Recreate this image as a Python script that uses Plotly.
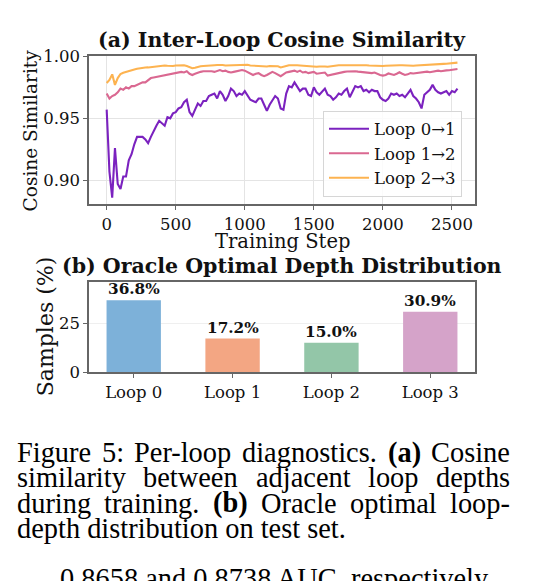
import plotly.graph_objects as go

W, H = 537, 581

# ---------------- data ----------------
steps = list(range(0, 2541, 20))

loop01 = [
    0.957, 0.907, 0.886, 0.926, 0.897, 0.893, 0.903, 0.903,
    0.916, 0.921, 0.929, 0.935, 0.935, 0.935, 0.933, 0.930,
    0.935, 0.940, 0.944, 0.948, 0.946, 0.944, 0.951, 0.950,
    0.954, 0.955, 0.958, 0.959, 0.963, 0.965, 0.955, 0.952,
    0.957, 0.962, 0.960, 0.964, 0.964, 0.968, 0.969, 0.970,
    0.966, 0.972, 0.969, 0.964, 0.968, 0.974, 0.972, 0.968,
    0.970, 0.969, 0.972, 0.969, 0.965, 0.964, 0.963, 0.966,
    0.966, 0.961, 0.956, 0.961, 0.965, 0.968, 0.966, 0.958,
    0.957, 0.970, 0.976, 0.975, 0.979, 0.975, 0.972, 0.974,
    0.974, 0.969, 0.968, 0.975, 0.971, 0.969, 0.972, 0.974,
    0.969, 0.968, 0.965, 0.967, 0.970, 0.969, 0.972, 0.974,
    0.967, 0.972, 0.976, 0.975, 0.976, 0.972, 0.973, 0.971,
    0.973, 0.972, 0.972, 0.967, 0.965, 0.964, 0.966, 0.970,
    0.969, 0.970, 0.968, 0.969, 0.967, 0.970, 0.973, 0.968,
    0.966, 0.963, 0.958, 0.969, 0.971, 0.973, 0.977, 0.973,
    0.971, 0.970, 0.971, 0.972, 0.969, 0.972, 0.971, 0.974,
]

loop12 = [
    0.970, 0.966, 0.968, 0.969, 0.971, 0.974, 0.973, 0.975,
    0.974, 0.976, 0.976, 0.977, 0.978, 0.979, 0.979, 0.981,
    0.9825, 0.983, 0.9835, 0.984, 0.9845, 0.985, 0.9855, 0.986,
    0.986, 0.9865, 0.987, 0.9875, 0.987, 0.988, 0.986, 0.985,
    0.986, 0.987, 0.9875, 0.988, 0.988, 0.9885, 0.988, 0.9875,
    0.9885, 0.989, 0.988, 0.9885, 0.9875, 0.987, 0.9875, 0.988,
    0.9885, 0.989, 0.9885, 0.9875, 0.9865, 0.985, 0.986, 0.9865,
    0.985, 0.984, 0.985, 0.986, 0.9875, 0.9865, 0.985, 0.984,
    0.9855, 0.987, 0.9875, 0.988, 0.9885, 0.9875, 0.9885, 0.987,
    0.9875, 0.9865, 0.987, 0.9875, 0.986, 0.9865, 0.9865, 0.987,
    0.9845, 0.985, 0.9855, 0.9865, 0.987, 0.9875, 0.9875, 0.9878,
    0.988, 0.9882, 0.988, 0.9877, 0.9875, 0.9872, 0.987, 0.9868,
    0.9865, 0.987, 0.9858, 0.985, 0.9845, 0.985, 0.9862, 0.9858,
    0.985, 0.986, 0.9872, 0.986, 0.985, 0.9855, 0.9865, 0.9862,
    0.9865, 0.987, 0.9872, 0.9875, 0.9877, 0.9872, 0.9875, 0.988,
    0.9885, 0.988, 0.9885, 0.9887, 0.9888, 0.989, 0.9892, 0.9898,
]

loop23 = [
    0.9785, 0.981, 0.9855, 0.977, 0.9825, 0.9858, 0.9868, 0.9876,
    0.9885, 0.989, 0.9895, 0.990, 0.9905, 0.9908, 0.991, 0.9911,
    0.9914, 0.9916, 0.9919, 0.9922, 0.9925, 0.9927, 0.9925, 0.9922,
    0.9923, 0.9926, 0.9927, 0.9928, 0.9929, 0.9922, 0.9916, 0.9905,
    0.9908, 0.9915, 0.992, 0.9922, 0.9925, 0.9927, 0.9928, 0.9929,
    0.993, 0.9932, 0.993, 0.9927, 0.9928, 0.9929, 0.9928, 0.9929,
    0.9929, 0.9932, 0.9935, 0.9932, 0.9927, 0.9925, 0.9922, 0.9922,
    0.992, 0.9916, 0.9918, 0.9922, 0.9922, 0.9922, 0.992, 0.9911,
    0.9914, 0.9922, 0.9928, 0.9929, 0.9929, 0.9928, 0.9926, 0.9924,
    0.9925, 0.9924, 0.9922, 0.9918, 0.9916, 0.9919, 0.9921, 0.9918,
    0.9916, 0.992, 0.9924, 0.9926, 0.9929, 0.9929, 0.9929, 0.993,
    0.9932, 0.9934, 0.9934, 0.9934, 0.9932, 0.993, 0.9929, 0.9926,
    0.9924, 0.9924, 0.9922, 0.992, 0.9922, 0.9924, 0.9926, 0.9928,
    0.9929, 0.9929, 0.9929, 0.9929, 0.9927, 0.9926, 0.9925, 0.9924,
    0.9926, 0.9928, 0.9929, 0.993, 0.9932, 0.9934, 0.9935, 0.9936,
    0.9938, 0.994, 0.994, 0.9941, 0.9942, 0.9944, 0.9946, 0.995,
]

series_names = ["Loop 0→1", "Loop 1→2", "Loop 2→3"]
series_colors = ["#7B22BF", "#DA6891", "#FDB350"]

bar_cats = ["Loop 0", "Loop 1", "Loop 2", "Loop 3"]
bar_vals = [36.8, 17.2, 15.0, 30.9]
bar_colors = ["#7DB1D9", "#F3A683", "#93C6A8", "#D5A3C9"]

cos_ticks = [0.90, 0.95, 1.00]
step_ticks = [0, 500, 1000, 1500, 2000, 2500]

caption_lines = [
    ["Figure", "5:", "Per-loop", "diagnostics.", "<b>(a)</b>", "Cosine"],
    ["similarity", "between", "adjacent", "loop", "depths"],
    ["during", "training.", "<b>(b)</b>", "Oracle", "optimal", "loop-"],
]
caption_last = "depth distribution on test set."
caption_next = "0.8658 and 0.8738 AUC, respectively,"

# ---------------- helpers ----------------
def px(x):
    return x / W

def py(y):
    return 1 - y / H

SERIF = "DejaVu Serif"
CAP = "Liberation Serif"
INK = "#111111"
SPINE = "#666666"

fig = go.Figure()

n = min(len(steps), len(loop01), len(loop12), len(loop23))
for name, vals, col in zip(series_names, [loop01, loop12, loop23], series_colors):
    fig.add_trace(go.Scatter(
        x=steps[:n], y=vals[:n], mode="lines", name=name,
        line=dict(color=col, width=2.1), xaxis="x", yaxis="y",
        hoverinfo="skip",
    ))

fig.add_trace(go.Bar(
    x=list(range(len(bar_cats))), y=bar_vals, width=0.55,
    marker=dict(color=bar_colors, line=dict(width=0)),
    xaxis="x2", yaxis="y2", showlegend=False, hoverinfo="skip",
))

axis_common = dict(
    showline=True, mirror=True, linecolor=SPINE, linewidth=1.5,
    ticks="outside", ticklen=4, tickwidth=1.2, tickcolor=SPINE,
    tickfont=dict(family=SERIF, size=16.5, color=INK),
    zeroline=False,
)

top_x = [89.0, 475.0]
top_y = [49.0, 202.0]
bot_y = [282.7, 375.3]

fig.update_layout(
    width=W, height=H,
    margin=dict(l=0, r=0, t=0, b=0),
    paper_bgcolor="white", plot_bgcolor="white",
    xaxis=dict(domain=[px(top_x[0]), px(top_x[1])], anchor="y",
               range=[-128, 2667], tickvals=step_ticks,
               showgrid=True, gridcolor="#e4e4e4", gridwidth=1, **axis_common),
    yaxis=dict(domain=[py(top_y[1]), py(top_y[0])], anchor="x",
               range=[0.8805, 1.0], tickvals=cos_ticks,
               ticktext=[f"{v:.2f}" for v in cos_ticks],
               showgrid=True, gridcolor="#e4e4e4", gridwidth=1, **axis_common),
    xaxis2=dict(domain=[px(top_x[0]), px(top_x[1])], anchor="y2",
                range=[-0.4525, 3.4525], tickvals=list(range(len(bar_cats))),
                ticktext=bar_cats, showgrid=False, **axis_common),
    yaxis2=dict(domain=[py(bot_y[1]), py(bot_y[0])], anchor="x2",
                range=[0, 46], tickvals=[0, 25],
                showgrid=True, gridcolor="#efefef", gridwidth=1, **axis_common),
    legend=dict(
        x=px(323), xanchor="left", y=py(105), yanchor="top",
        bgcolor="rgba(255,255,255,0.85)", bordercolor="#d6d6d6", borderwidth=1,
        font=dict(family=SERIF, size=16.5, color=INK), itemwidth=40,
    ),
    showlegend=True,
)

ann = []
# titles and axis labels
ann.append(dict(text="<b>(a) Inter-Loop Cosine Similarity</b>", x=px(282), y=py(32.5),
                font=dict(family=SERIF, size=20.5, color=INK)))
ann.append(dict(text="Training Step", x=px(282), y=py(240.5),
                font=dict(family=SERIF, size=19.5, color=INK)))
ann.append(dict(text="Cosine Similarity", x=px(30), y=py(125.5), textangle=-90,
                font=dict(family=SERIF, size=18.5, color=INK)))
ann.append(dict(text="<b>(b) Oracle Optimal Depth Distribution</b>", x=px(282), y=py(265.5),
                font=dict(family=SERIF, size=20.5, color=INK)))
ann.append(dict(text="Samples (%)", x=px(45), y=py(328), textangle=-90,
                font=dict(family=SERIF, size=22, color=INK)))
for a in ann:
    a.update(xref="paper", yref="paper", showarrow=False, xanchor="center", yanchor="middle")

# bar value labels
for i, v in enumerate(bar_vals):
    ann.append(dict(text=f"<b>{v:.1f}%</b>", x=i, y=v, xref="x2", yref="y2",
                    showarrow=False, xanchor="center", yanchor="bottom", yshift=0,
                    font=dict(family=SERIF, size=15.3, color=INK)))

# caption (justified by word placement)
FS = 28.4
reg = {'a': 444, 'b': 500, 'c': 444, 'd': 500, 'e': 444, 'f': 333, 'g': 500, 'h': 500,
       'i': 278, 'j': 278, 'k': 500, 'l': 278, 'm': 778, 'n': 500, 'o': 500, 'p': 500,
       'q': 500, 'r': 333, 's': 389, 't': 278, 'u': 500, 'v': 500, 'w': 722, 'x': 500,
       'y': 500, 'z': 444, 'C': 667, 'F': 556, 'O': 722, 'P': 556, '.': 250, ':': 278,
       '-': 333, '(': 333, ')': 333, ' ': 250}
bold = {'(': 333, ')': 333, 'a': 500, 'b': 556}

def wwidth(word):
    if word.startswith("<b>"):
        core = word[3:-4]
        return sum(bold.get(c, 500) for c in core) * FS / 1000
    return sum(reg.get(c, 500) for c in word) * FS / 1000

left, right = 15.0, 508.0
line_centers = [458.5, 484.7, 510.9]
for words, yc in zip(caption_lines, line_centers):
    widths = [wwidth(w) for w in words]
    gap = (right - left - sum(widths)) / (len(words) - 1)
    xcur = left
    for w, wd in zip(words, widths):
        ann.append(dict(text=w, x=px(xcur), y=py(yc), xref="paper", yref="paper",
                        showarrow=False, xanchor="left", yanchor="middle",
                        font=dict(family=CAP, size=FS, color="#000000")))
        xcur += wd + gap
ann.append(dict(text=caption_last, x=px(left), y=py(537.1), xref="paper", yref="paper",
                showarrow=False, xanchor="left", yanchor="middle",
                font=dict(family=CAP, size=FS, color="#000000")))
ann.append(dict(text=caption_next, x=px(58), y=py(589.0), xref="paper", yref="paper",
                showarrow=False, xanchor="left", yanchor="middle",
                font=dict(family=CAP, size=FS, color="#000000")))

fig.update_layout(annotations=ann)

fig.write_html("out.html")
